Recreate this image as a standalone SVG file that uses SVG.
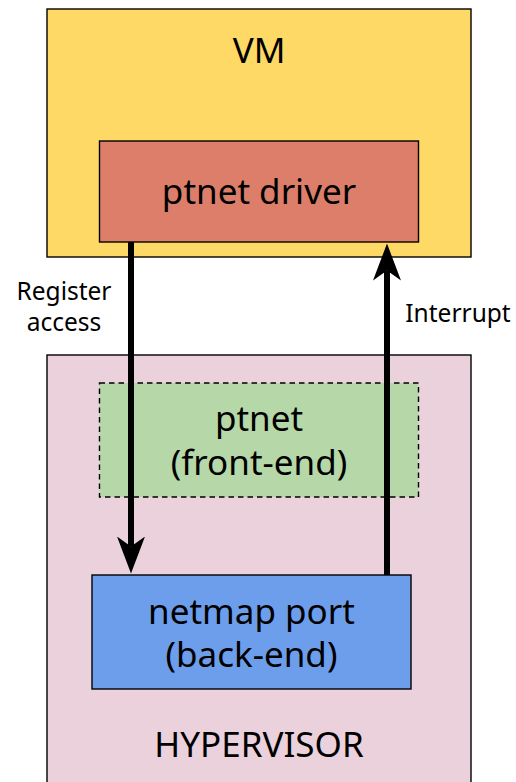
<svg xmlns="http://www.w3.org/2000/svg" width="516" height="782" viewBox="0 0 516 782">
  <style>
    .box { stroke: #000; stroke-width: 1.4; }
    .lbl { font-family: "Noto Sans", "Open Sans", "DejaVu Sans", sans-serif; fill: #000; text-anchor: middle; }
    .big { font-size: 35px; }
    .small { font-size: 24.5px; }
    .wire { stroke: #000; stroke-width: 6; fill: none; }
  </style>
  <defs>
    <marker id="stealth" markerUnits="userSpaceOnUse" viewBox="0 -14 37 28" refX="10" refY="0" markerWidth="37" markerHeight="28" orient="auto">
      <path d="M0,-14 L37,0 L0,14 L10,0 Z" fill="#000"/>
    </marker>
  </defs>

  <rect width="516" height="782" fill="#fff"/>

  <g id="vm">
    <rect class="box" x="47" y="9" width="424" height="248" fill="#ffd966"/>
    <text class="lbl big" x="259" y="62.5">VM</text>
  </g>

  <g id="ptnet-driver">
    <rect class="box" x="99.5" y="141" width="319" height="101" fill="#dd7e6b"/>
    <text class="lbl big" x="259" y="204">ptnet driver</text>
  </g>

  <g id="hypervisor">
    <rect class="box" x="47" y="355" width="424" height="440" fill="#ead1dc"/>
    <text class="lbl big" x="259" y="757">HYPERVISOR</text>
  </g>

  <g id="ptnet-frontend">
    <rect class="box" x="99.5" y="383" width="319" height="114" fill="#b6d7a8" stroke-dasharray="5.5,4"/>
    <text class="lbl big" x="259" y="431">ptnet</text>
    <text class="lbl big" x="259" y="474.5">(front-end)</text>
  </g>

  <g id="netmap-port">
    <rect class="box" x="92" y="575" width="319" height="114" fill="#6d9eeb"/>
    <text class="lbl big" x="251.5" y="623.5">netmap port</text>
    <text class="lbl big" x="251.5" y="667">(back-end)</text>
  </g>

  <g id="connectors">
    <line class="wire" x1="131" y1="242" x2="131" y2="546.5" marker-end="url(#stealth)"/>
    <line class="wire" x1="387" y1="575" x2="387" y2="270.5" marker-end="url(#stealth)"/>
    <text class="lbl small" x="64" y="300">Register</text>
    <text class="lbl small" x="64" y="330.5">access</text>
    <text class="lbl small" x="458" y="321.5">Interrupt</text>
  </g>
</svg>
